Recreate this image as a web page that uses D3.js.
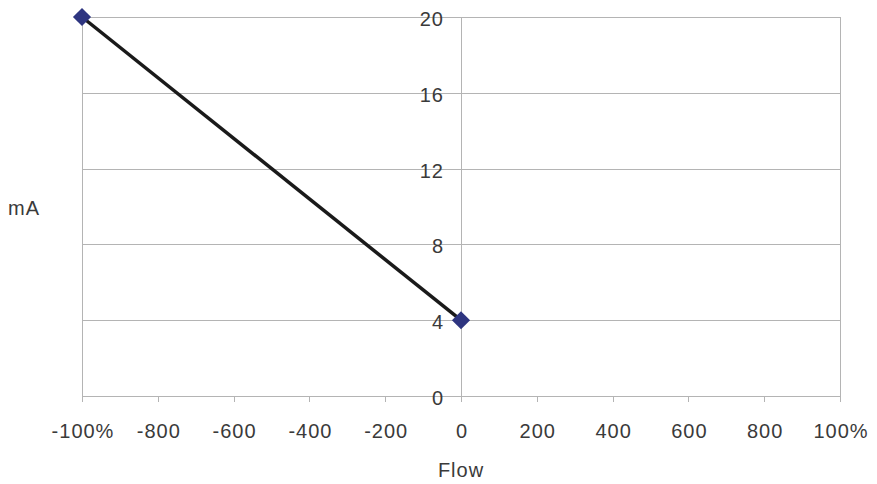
<!DOCTYPE html>
<html lang="en">
<head>
<meta charset="utf-8">
<title>mA vs Flow</title>
<script src="https://d3js.org/d3.v7.min.js"></script>
<style>
  body { margin: 0; background: #fff; }
  text { font-family: "Liberation Sans", Arial, sans-serif; fill: #3a3a3a; font-size: 20px; letter-spacing: 1px; }
</style>
</head>
<body>
<div id="chart"></div>
<script>
// data
var flowValues = [-1000, 0]
var mAValues = [20, 4]
var xTicks = [-1000, -800, -600, -400, -200, 0, 200, 400, 600, 800, 1000]
var xTickLabels = ["-100%", "-800", "-600", "-400", "-200", "0", "200", "400", "600", "800", "100%"]
var yTicks = [0, 4, 8, 12, 16, 20]

var width = 877, height = 484
// plot box (note: "top" is taken by window.top, so use plot* names)
var plotLeft = 82, plotRight = 840, plotTop = 17, plotBottom = 396

var svg = d3.select("#chart").append("svg")
    .attr("width", width)
    .attr("height", height)

var x = d3.scaleLinear().domain([-1000, 1000]).range([plotLeft, plotRight])
var y = d3.scaleLinear().domain([0, 20]).range([plotBottom, plotTop])

var grid = "#b4b4b4"

// horizontal grid lines
svg.selectAll(".hgrid")
    .data(yTicks)
    .enter().append("line")
    .attr("x1", plotLeft).attr("x2", plotRight)
    .attr("y1", d => Math.round(y(d)) + 0.5).attr("y2", d => Math.round(y(d)) + 0.5)
    .attr("stroke", grid).attr("stroke-width", 1)

// plot edges and y axis at zero
;[plotLeft, x(0), plotRight].forEach(function (px) {
    svg.append("line")
        .attr("x1", Math.round(px) + 0.5).attr("x2", Math.round(px) + 0.5)
        .attr("y1", plotTop).attr("y2", plotBottom)
        .attr("stroke", grid).attr("stroke-width", 1)
})

// x ticks
svg.selectAll(".xtick")
    .data(xTicks)
    .enter().append("line")
    .attr("x1", d => Math.round(x(d)) + 0.5).attr("x2", d => Math.round(x(d)) + 0.5)
    .attr("y1", plotBottom).attr("y2", plotBottom + 6)
    .attr("stroke", grid)

svg.selectAll(".xlab")
    .data(xTicks)
    .enter().append("text")
    .attr("x", d => x(d) + 1)
    .attr("y", 438)
    .attr("text-anchor", "middle")
    .text((d, i) => xTickLabels[i])

// y labels beside the zero line
svg.selectAll(".ylab")
    .data(yTicks)
    .enter().append("text")
    .attr("x", 444)
    .attr("y", d => y(d) + 9)
    .attr("text-anchor", "end")
    .text(d => d)

// axis titles
svg.append("text")
    .attr("x", 461).attr("y", 477)
    .attr("text-anchor", "middle")
    .text("Flow")

svg.append("text")
    .attr("x", 8).attr("y", 215)
    .text("mA")

// line and markers
var pts = flowValues.map((v, i) => [v, mAValues[i]])

svg.append("path")
    .datum(pts)
    .attr("d", d3.line().x(d => x(d[0])).y(d => y(d[1])))
    .attr("fill", "none")
    .attr("stroke", "#1a1a1a")
    .attr("stroke-width", 3.5)

svg.selectAll(".marker")
    .data(pts)
    .enter().append("path")
    .attr("d", d3.symbol().type(d3.symbolDiamond2).size(210))
    .attr("transform", d => "translate(" + x(d[0]) + "," + y(d[1]) + ")")
    .attr("fill", "#2e3580")
</script>
</body>
</html>
